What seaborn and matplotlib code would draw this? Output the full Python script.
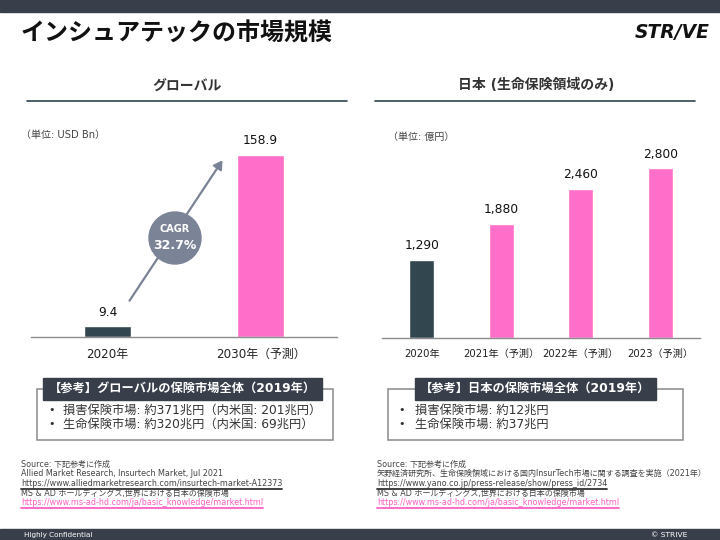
import matplotlib
matplotlib.use("Agg")
import matplotlib.pyplot as plt
from matplotlib.patches import Rectangle, Circle, FancyArrowPatch
import seaborn as sns
import pandas as pd

# ---------------- data ----------------
global_categories = ["2020年", "2030年（予測）"]
global_values = [9.4, 158.9]
japan_categories = ["2020年", "2021年（予測）", "2022年（予測）", "2023（予測）"]
japan_values = [1290, 1880, 2460, 2800]
cagr_value = "32.7%"

title = "インシュアテックの市場規模"
left_header = "グローバル"
right_header = "日本 (生命保険領域のみ)"
left_unit = "（単位: USD Bn）"
right_unit = "（単位: 億円）"
left_ref_title = "【参考】グローバルの保険市場全体（2019年）"
left_ref_items = ["損害保険市場: 約371兆円（内米国: 201兆円）",
                  "生命保険市場: 約320兆円（内米国: 69兆円）"]
right_ref_title = "【参考】日本の保険市場全体（2019年）"
right_ref_items = ["損害保険市場: 約12兆円", "生命保険市場: 約37兆円"]
left_sources = ["Source: 下記参考に作成",
                "Allied Market Research, Insurtech Market, Jul 2021",
                "https://www.alliedmarketresearch.com/insurtech-market-A12373",
                "MS & AD ホールディングス,世界における日本の保険市場",
                "https://www.ms-ad-hd.com/ja/basic_knowledge/market.html"]
right_sources = ["Source: 下記参考に作成",
                 "矢野経済研究所、生命保険領域における国内InsurTech市場に関する調査を実施（2021年）",
                 "https://www.yano.co.jp/press-release/show/press_id/2734",
                 "MS & AD ホールディングス,世界における日本の保険市場",
                 "https://www.ms-ad-hd.com/ja/basic_knowledge/market.html"]

# ---------------- style ----------------
DARK = "#324650"
PINK = "#ff6ec8"
BAND = "#393f4a"
GREY = "#7b8497"

sns.set_style("white")
plt.rcParams['font.family'] = ['DejaVu Sans', 'Noto Sans CJK JP']

W, H = 720, 540
fig = plt.figure(figsize=(7.2, 5.4), dpi=100)


def rect_px(x0, y_top, x1, y_bottom):
    return [x0 / W, 1 - y_bottom / H, (x1 - x0) / W, (y_bottom - y_top) / H]


def bar_chart(ax, cats, vals, fmt, tick_fs, val_fs, ymax):
    df = pd.DataFrame({"cat": cats, "val": vals})
    pal = {c: (DARK if i == 0 else PINK) for i, c in enumerate(cats)}
    sns.barplot(data=df, x="cat", y="val", hue="cat", palette=pal,
                width=0.31, legend=False, ax=ax, saturation=1)
    for cont in ax.containers:
        ax.bar_label(cont, labels=[fmt(v) for v in cont.datavalues],
                     padding=5.5, fontsize=val_fs, color="#111111")
    ax.set_xlim(-0.5, len(cats) - 0.5)
    ax.set_ylim(0, ymax)
    ax.set_xlabel("")
    ax.set_ylabel("")
    ax.set_yticks([])
    for s in ["top", "left", "right"]:
        ax.spines[s].set_visible(False)
    ax.spines["bottom"].set_color("#8c8c8c")
    ax.spines["bottom"].set_linewidth(1.0)
    ax.tick_params(axis="x", length=0, pad=8, labelsize=tick_fs, labelcolor="#222222")
    ax.patch.set_alpha(0)


ax1 = fig.add_axes(rect_px(31, 120, 337, 337))
bar_chart(ax1, global_categories, global_values, lambda v: f"{v:.1f}", 8.6, 8.8, 189.5)

ax2 = fig.add_axes(rect_px(382, 120, 700, 338))
bar_chart(ax2, japan_categories, japan_values, lambda v: f"{int(round(v)):,}", 7.3, 8.8, 3597)

# ---------------- overlay (pixel coordinates) ----------------
ov = fig.add_axes([0, 0, 1, 1])
ov.set_xlim(0, W)
ov.set_ylim(H, 0)
ov.axis("off")

# header / footer bands
ov.add_patch(Rectangle((0, 0), W, 11.5, color=BAND, zorder=1))
ov.add_patch(Rectangle((0, 529), W, 11, color=BAND, zorder=1))
ov.text(24, 535, "Highly Confidential", color="white", fontsize=5.2, va="center", ha="left")
ov.text(687, 535, "© STRIVE", color="white", fontsize=5.4, va="center", ha="right")

# title and logo
ov.text(21, 34, title, fontsize=17.3, fontweight="bold", family="Noto Sans CJK JP",
        va="center", ha="left", color="#111111")
ov.text(710, 33, "STR/VE", fontsize=13.5, fontweight="bold", style="italic",
        va="center", ha="right", color="#111111")

# section headers
ov.text(187, 87, left_header, fontsize=10, fontweight="bold", va="center", ha="center",
        color="#333333")
ov.plot([27, 347], [100.5, 100.5], color="#2f4550", lw=1.2)
ov.text(536, 85, right_header, fontsize=10, fontweight="bold", va="center", ha="center",
        color="#333333")
ov.plot([375, 695], [100.5, 100.5], color="#2f4550", lw=1.2)

# unit labels
ov.text(21, 135, left_unit, fontsize=7.2, color="#444444", va="center", ha="left")
ov.text(388, 137, right_unit, fontsize=7.2, color="#444444", va="center", ha="left")

# CAGR arrow and bubble
ov.add_patch(FancyArrowPatch((128, 303), (224, 158), arrowstyle="-|>,head_length=5,head_width=3",
                             color="#7a8296", lw=1.6, zorder=3))
ov.add_patch(Circle((175, 238), 26, color=GREY, zorder=4))
ov.text(175, 228.5, "CAGR", color="white", fontsize=7, fontweight="bold",
        ha="center", va="center", zorder=5)
ov.text(175, 245.5, cagr_value, color="white", fontsize=9, fontweight="bold",
        ha="center", va="center", zorder=5)


# reference boxes
def ref_box(x0, x1, lx0, lx1, head, items, bx, tx):
    ov.add_patch(Rectangle((x0, 389), x1 - x0, 51, fill=False, edgecolor="#8a8a8a",
                           lw=1.1, zorder=2))
    ov.add_patch(Rectangle((lx0, 378), lx1 - lx0, 21.5, color=BAND, zorder=3))
    ov.text((lx0 + lx1) / 2, 388.5, head, color="white", fontsize=8.8, fontweight="bold",
            ha="center", va="center", zorder=4)
    for i, it in enumerate(items):
        y = 410 + i * 14
        ov.text(bx, y, "•", fontsize=8, color="#333333", ha="center", va="center")
        ov.text(tx, y, it, fontsize=8.8, color="#333333", ha="left", va="center")


ref_box(37, 333, 43, 322, left_ref_title, left_ref_items, 52, 63)
ref_box(388, 683, 415, 656, right_ref_title, right_ref_items, 402, 415)

# sources
url_texts = []
SRC_FS = 5.8


def sources(x, lines):
    for i, ln in enumerate(lines):
        y = 464.3 + i * 9.6
        if i == 2:
            t = ov.text(x, y, ln, fontsize=SRC_FS, color="#444444", ha="left", va="center")
            url_texts.append((t, "#333333", y))
        elif i == 4:
            t = ov.text(x, y, ln, fontsize=SRC_FS, color="#ff5fc3", ha="left", va="center")
            url_texts.append((t, "#ff5fc3", y))
        else:
            ov.text(x, y, ln, fontsize=SRC_FS, color="#444444", ha="left", va="center")


sources(21, left_sources)
sources(377, right_sources)

fig.canvas.draw()
r = fig.canvas.get_renderer()
inv = ov.transData.inverted()
for t, col, y in url_texts:
    bb = t.get_window_extent(r)
    (xa, _), (xb, _) = inv.transform([(bb.x0, bb.y0), (bb.x1, bb.y0)])
    ov.plot([xa, xb], [y + 5, y + 5], color=col, lw=1.3)

fig.savefig("out.png", dpi=100)
